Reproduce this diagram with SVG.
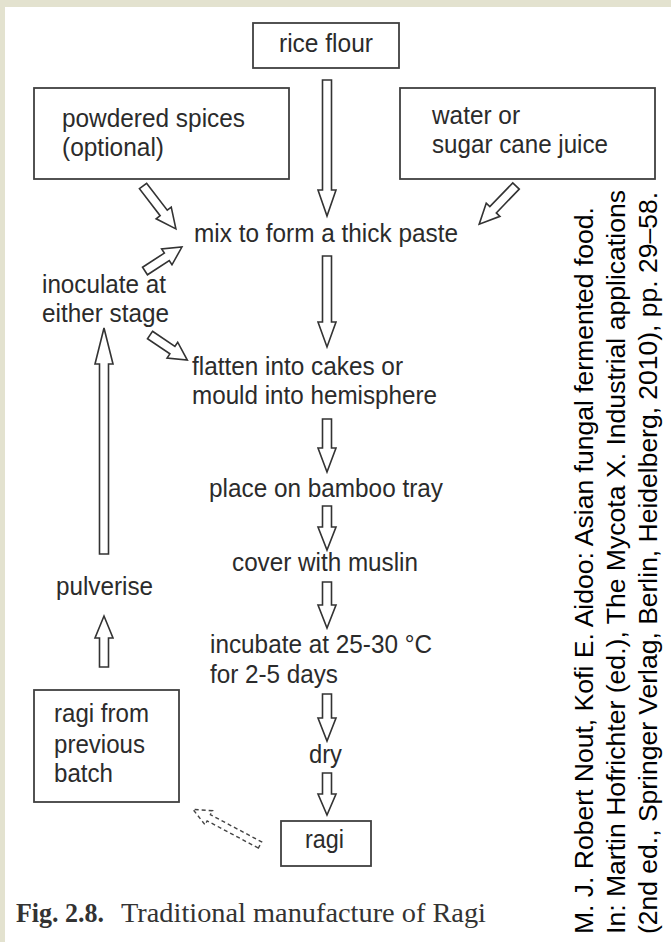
<svg xmlns="http://www.w3.org/2000/svg" width="671" height="942" viewBox="0 0 671 942">
<style>
.box{fill:none;stroke:#404040;stroke-width:1.8}
.arr{fill:#fff;stroke:#333;stroke-width:1.6;stroke-linejoin:miter}
.dash{fill:#fff;stroke:#444;stroke-width:1.4;stroke-dasharray:4 3}
.t{font-family:"Liberation Sans",Arial,sans-serif;font-size:26px;fill:#2b2b2b}
.cit{font-family:"Liberation Sans",Arial,sans-serif;font-size:26.6px;fill:#000}
.cap{font-family:"Liberation Serif","Times New Roman",serif;font-size:27px;fill:#333}
</style>
<rect x="0" y="0" width="671" height="942" fill="#e3e2cf"/>
<rect x="5" y="7" width="666" height="935" fill="#fff"/>

<g id="connectors">
<path class="arr" d="M322.5,80 H331.5 V190 H336 L327,216 L318,190 H322.5 Z"/>
<path class="arr" d="M322.5,256 H331.5 V322 H336 L327,347 L318,322 H322.5 Z"/>
<path class="arr" d="M322.5,419 H331.5 V448 H336 L327,472 L318,448 H322.5 Z"/>
<path class="arr" d="M322.5,506 H331.5 V527 H336 L327,550 L318,527 H322.5 Z"/>
<path class="arr" d="M322.5,582 H331.5 V605 H336 L327,628 L318,605 H322.5 Z"/>
<path class="arr" d="M322.5,694 H331.5 V718 H336 L327,741 L318,718 H322.5 Z"/>
<path class="arr" d="M322.5,773 H331.5 V794 H336 L327,815 L318,794 H322.5 Z"/>
<path class="arr" d="M99.5,554 H108.5 V364 H113 L104,328 L95,364 H99.5 Z"/>
<path class="arr" d="M99.5,667 H108.5 V638 H113 L104,616 L95,638 H99.5 Z"/>
<path class="arr" transform="translate(143,186) rotate(52.5)" d="M0,-4.5 H34 V-9.5 L54,0 L34,9.5 V4.5 H0 Z"/>
<path class="arr" transform="translate(145,271) rotate(-33)" d="M0,-4.5 H26 V-9.5 L44,0 L26,9.5 V4.5 H0 Z"/>
<path class="arr" transform="translate(516,186) rotate(134)" d="M0,-4.5 H33 V-9.5 L53,0 L33,9.5 V4.5 H0 Z"/>
<path class="arr" transform="translate(150,335) rotate(34)" d="M0,-4.5 H27 V-9.5 L45,0 L27,9.5 V4.5 H0 Z"/>
<path class="dash" transform="translate(260,845) rotate(208)" d="M0,-3.5 H58 V-8 L76,0 L58,8 V3.5 H0 Z"/>
</g>

<g id="rice-flour">
<rect class="box" x="253" y="23" width="146" height="45"/>
<text class="t" x="279" y="52" textLength="94" lengthAdjust="spacingAndGlyphs">rice flour</text>
</g>
<g id="spices">
<rect class="box" x="34" y="88" width="255" height="91"/>
<text class="t" x="62" y="127" textLength="183" lengthAdjust="spacingAndGlyphs">powdered spices</text>
<text class="t" x="62" y="156" textLength="102" lengthAdjust="spacingAndGlyphs">(optional)</text>
</g>
<g id="water">
<rect class="box" x="400" y="88" width="255" height="91"/>
<text class="t" x="432" y="124" textLength="88" lengthAdjust="spacingAndGlyphs">water or</text>
<text class="t" x="432" y="153" textLength="176" lengthAdjust="spacingAndGlyphs">sugar cane juice</text>
</g>
<g id="mix">
<text class="t" x="194" y="242" textLength="264" lengthAdjust="spacingAndGlyphs">mix to form a thick paste</text>
</g>
<g id="inoculate">
<text class="t" x="42" y="293" textLength="124" lengthAdjust="spacingAndGlyphs">inoculate at</text>
<text class="t" x="42" y="322" textLength="127" lengthAdjust="spacingAndGlyphs">either stage</text>
</g>
<g id="flatten">
<text class="t" x="192" y="375" textLength="211" lengthAdjust="spacingAndGlyphs">flatten into cakes or</text>
<text class="t" x="192" y="404" textLength="245" lengthAdjust="spacingAndGlyphs">mould into hemisphere</text>
</g>
<g id="place">
<text class="t" x="209" y="497" textLength="234" lengthAdjust="spacingAndGlyphs">place on bamboo tray</text>
</g>
<g id="cover">
<text class="t" x="232" y="571" textLength="186" lengthAdjust="spacingAndGlyphs">cover with muslin</text>
</g>
<g id="pulverise">
<text class="t" x="56" y="595" textLength="97" lengthAdjust="spacingAndGlyphs">pulverise</text>
</g>
<g id="incubate">
<text class="t" x="210" y="653" textLength="222" lengthAdjust="spacingAndGlyphs">incubate at 25-30 °C</text>
<text class="t" x="210" y="683" textLength="128" lengthAdjust="spacingAndGlyphs">for 2-5 days</text>
</g>
<g id="ragi-previous">
<rect class="box" x="34" y="690" width="145" height="112"/>
<text class="t" x="54" y="722" textLength="95" lengthAdjust="spacingAndGlyphs">ragi from</text>
<text class="t" x="54" y="753" textLength="91" lengthAdjust="spacingAndGlyphs">previous</text>
<text class="t" x="54" y="782" textLength="59" lengthAdjust="spacingAndGlyphs">batch</text>
</g>
<g id="dry">
<text class="t" x="309" y="763" textLength="33" lengthAdjust="spacingAndGlyphs">dry</text>
</g>
<g id="ragi">
<rect class="box" x="281" y="821" width="90" height="45"/>
<text class="t" x="305" y="848" textLength="39" lengthAdjust="spacingAndGlyphs">ragi</text>
</g>

<g id="caption">
<text class="cap" x="16" y="922"><tspan font-weight="bold" textLength="88" lengthAdjust="spacingAndGlyphs">Fig. 2.8.</tspan><tspan x="121" textLength="365" lengthAdjust="spacingAndGlyphs">Traditional manufacture of Ragi</tspan></text>
</g>

<g id="citation">
<text class="cit" transform="translate(593,934) rotate(-90)" textLength="727" lengthAdjust="spacingAndGlyphs">M. J. Robert Nout, Kofi E. Aidoo: Asian fungal fermented food.</text>
<text class="cit" transform="translate(625,934) rotate(-90)" textLength="744" lengthAdjust="spacingAndGlyphs">In: Martin Hofrichter (ed.), The Mycota X. Industrial applications</text>
<text class="cit" transform="translate(657,934) rotate(-90)" textLength="742" lengthAdjust="spacingAndGlyphs">(2nd ed., Springer Verlag, Berlin, Heidelberg, 2010), pp. 29–58.</text>
</g>
</svg>
